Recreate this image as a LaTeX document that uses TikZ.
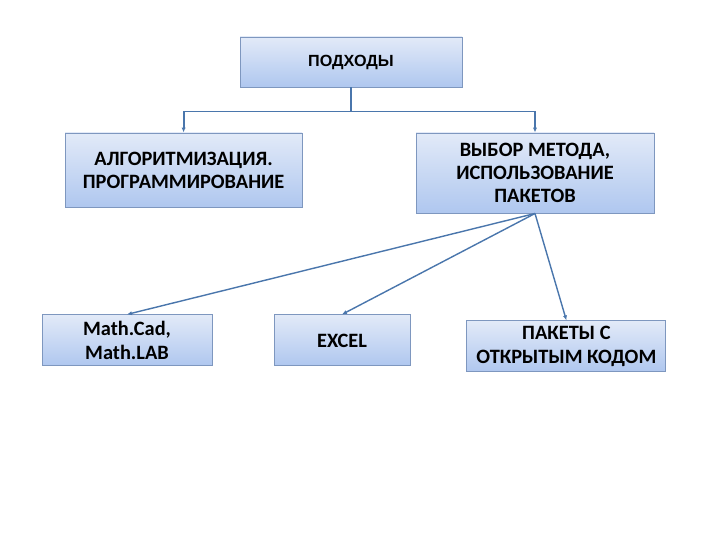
\documentclass[tikz,border=0pt]{standalone}
\usepackage{fontspec}
\setmainfont{Carlito}
\newfontfamily\arialfont{Liberation Sans}[BoldFont={Liberation Sans Bold}]
\usepackage{xcolor}
\usepackage{tikz}
\usetikzlibrary{calc}
\usetikzlibrary{arrows.meta}
\usetikzlibrary{positioning}

\definecolor{boxline}{HTML}{7E97BF}
\definecolor{boxtop}{HTML}{E2EAF8}
\definecolor{boxbottom}{HTML}{AFC7EF}
\definecolor{linkline}{HTML}{4A76AC}

\tikzset{
  box/.style={rectangle, draw=boxline, line width=0.7pt, top color=boxtop, bottom color=boxbottom,
    align=center, font=\fontsize{14.5}{16.5}\selectfont\bfseries, inner sep=2pt},
  link/.style={-{Latex[length=3.5pt,width=3pt]}, draw=linkline, line width=1pt}
}

\begin{document}
\begin{tikzpicture}
\useasboundingbox (0,0) rectangle (18,13.5);
\node [box, minimum width=5.55cm, minimum height=1.25cm, font=\arialfont\bfseries\fontsize{11.5}{13.5}\selectfont] (app) at (8.775, 11.95) {ПОДХОДЫ};
\node [box, minimum width=5.925cm, minimum height=1.85cm] (alg) at (4.59, 9.25) {АЛГОРИТМИЗАЦИЯ.\\ПРОГРАММИРОВАНИЕ};
\node [box, minimum width=5.95cm, minimum height=2cm] (choice) at (13.375, 9.175) {ВЫБОР МЕТОДА,\\ИСПОЛЬЗОВАНИЕ\\ПАКЕТОВ};
\node [box, minimum width=4.25cm, minimum height=1.275cm] (math) at (3.175, 4.99) {Math.Cad,\\Math.LAB};
\node [box, minimum width=3.4cm, minimum height=1.275cm] (excel) at (8.55, 4.99) {EXCEL};
\node [box, minimum width=4.975cm, minimum height=1.275cm] (open) at (14.16, 4.84) {ПАКЕТЫ С\\ОТКРЫТЫМ КОДОМ};
\draw [link, line width=1.4pt] (app.south) -- ++(0,-0.6) -| (alg.north);
\draw [link, line width=1.4pt] (app.south) -- ++(0,-0.6) -| (choice.north);
\draw [link] (choice.south) to (math.north);
\draw [link] (choice.south) to (excel.north);
\draw [link] (choice.south) to (open.north);
\end{tikzpicture}
\end{document}
